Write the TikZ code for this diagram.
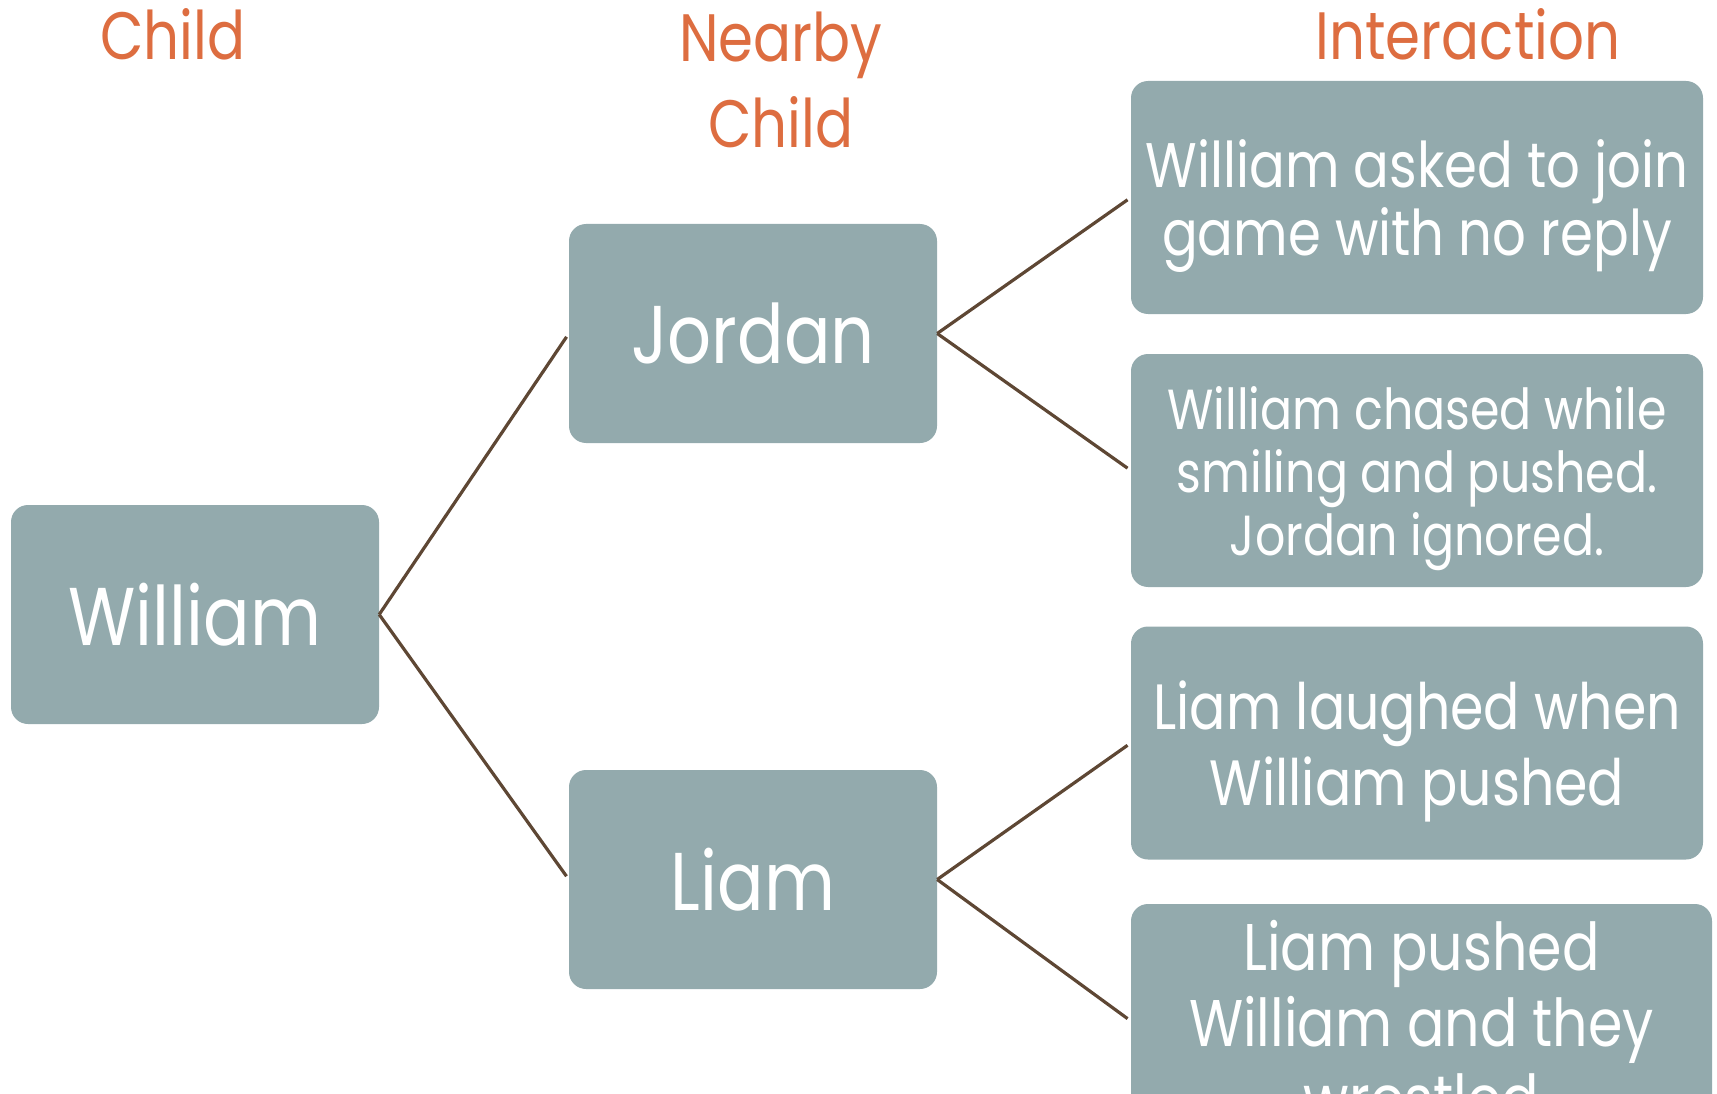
\documentclass[tikz,border=0pt]{standalone}
\usepackage{fontspec}
\setmainfont{Poppins}[FakeStretch=0.84]
\usepackage{tikz}
\usetikzlibrary{positioning}
\definecolor{cbox}{RGB}{147,170,173}
\definecolor{chead}{RGB}{221,109,64}
\definecolor{cline}{RGB}{94,71,52}

\begin{document}
\begin{tikzpicture}[
  x=1pt, y=-1pt,
  kidbox/.style={fill=cbox, rounded corners=17pt, minimum width=368pt, minimum height=219pt, inner sep=0pt, align=center, text=white, font=\fontsize{82}{86}\selectfont},
  actbox/.style={kidbox, minimum width=572pt, minimum height=233pt, text depth=0pt, font=\fontsize{63}{68}\selectfont},
  colhead/.style={text=chead, align=center, inner sep=0pt, font=\fontsize{67}{86}\selectfont},
  link/.style={draw=cline, line width=3.2pt, shorten >=4pt},
]
\useasboundingbox (0,0) rectangle (1717,1094);
\clip (0,0) rectangle (1717,1094);
% column heads
\node[colhead, anchor=base] (hchild) at (173,60) {Child};
\node[colhead, anchor=base] (hnear) at (781,148) {Nearby\\Child};
\node[colhead, anchor=base] (hact) at (1468,60) {Interaction};
% children
\node[kidbox] (william) at (195,614.5) {William};
\node[kidbox] (jordan) at (753,333.5) {Jordan};
\node[kidbox] (liam) at (753,879.5) {Liam};
% interactions
\node[actbox] (act1) at (1417,197.5) {William asked to join\\game with no reply};
\node[actbox, font=\fontsize{56.5}{63}\selectfont] (act2) at (1417,470.5) {William chased while\\smiling and pushed.\\Jordan ignored.};
\node[actbox, font=\fontsize{64}{76}\selectfont] (act3) at (1417,743) {Liam laughed when\\William pushed};
\node[actbox, minimum width=581pt, minimum height=234pt, font=\fontsize{66}{76}\selectfont] (act4) at (1421.5,1021) {Liam pushed\\William and they\\wrestled};
% links
\draw[link] (william.east) -- (jordan.west);
\draw[link] (william.east) -- (liam.west);
\draw[link] (jordan.east) -- (act1.west);
\draw[link] (jordan.east) -- (act2.west);
\draw[link] (liam.east) -- (act3.west);
\draw[link] (liam.east) -- (act4.west);
\end{tikzpicture}
\end{document}
